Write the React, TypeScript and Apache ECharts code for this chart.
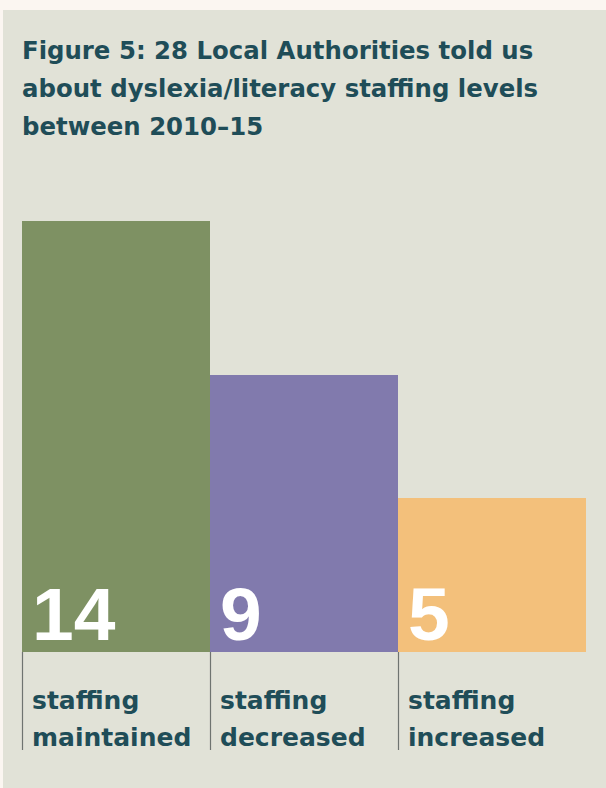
import React, { useEffect, useRef } from "react";
import * as echarts from "echarts";

const titleLines = [
  "Figure 5: 28 Local Authorities told us",
  "about dyslexia/literacy staffing levels",
  "between 2010–15",
];
const categories = ["staffing\nmaintained", "staffing\ndecreased", "staffing\nincreased"];
const values = [14, 9, 5];
const barColors = ["#7e9163", "#817aad", "#f3c07b"];

const TEXT = "#1f4d58";
const FONT = "'DejaVu Sans', sans-serif";

export default function App() {
  const ref = useRef<HTMLDivElement>(null);
  useEffect(() => {
    if (!ref.current) return;
    const chart = echarts.init(ref.current, undefined, { renderer: "svg" });
    chart.setOption({
      animation: false,
      backgroundColor: "#fbf6f1",
      graphic: [
        {
          type: "rect",
          z: -10,
          shape: { x: 3, y: 10, width: 603, height: 778 },
          style: { fill: "#e1e2d7" },
        },
        {
          type: "text",
          left: 22,
          top: 31,
          style: {
            text: titleLines.join("\n"),
            fill: TEXT,
            font: `bold 24.4px ${FONT}`,
            lineHeight: 38,
          },
        },
      ],
      grid: { left: 22, right: 20, top: 221, bottom: 136, containLabel: false },
      xAxis: {
        type: "category",
        data: categories,
        axisLine: { show: false },
        axisTick: { show: false },
        axisLabel: { show: false },
        splitLine: { show: false },
      },
      yAxis: {
        type: "value",
        min: 0,
        max: "dataMax",
        show: false,
        splitLine: { show: false },
      },
      series: [
        {
          type: "bar",
          barWidth: "100%",
          data: values.map((v, i) => ({ value: v, itemStyle: { color: barColors[i] } })),
          label: {
            show: true,
            position: "insideBottomLeft",
            distance: 0,
            offset: [10, -1],
            color: "#ffffff",
            fontSize: 75,
            fontWeight: "bold",
            fontFamily: "'Liberation Sans', Arial, sans-serif",
            formatter: "{c}",
          },
        },
        {
          type: "custom",
          clip: false,
          data: categories.map((_, i) => [i, 0]),
          renderItem: (params: any, api: any) => {
            const p = api.coord([api.value(0), 0]);
            const bw = api.size([1, 0])[0];
            const left = p[0] - bw / 2;
            const y = p[1];
            return {
              type: "group",
              children: [
                {
                  type: "line",
                  shape: { x1: left + 0.5, y1: y, x2: left + 0.5, y2: y + 98 },
                  style: { stroke: "#6f7470", lineWidth: 1.2 },
                },
                {
                  type: "text",
                  x: left + 10,
                  y: y + 30,
                  style: {
                    text: categories[params.dataIndex],
                    fill: TEXT,
                    font: `bold 25px ${FONT}`,
                    lineHeight: 37,
                    verticalAlign: "top",
                    align: "left",
                  },
                },
              ],
            };
          },
        },
      ],
    });
    return () => chart.dispose();
  }, []);
  return (
    <div style={{ position: "fixed", left: 0, top: 0, width: 606, height: 788 }}>
      <div ref={ref} style={{ width: 606, height: 788 }} />
    </div>
  );
}
